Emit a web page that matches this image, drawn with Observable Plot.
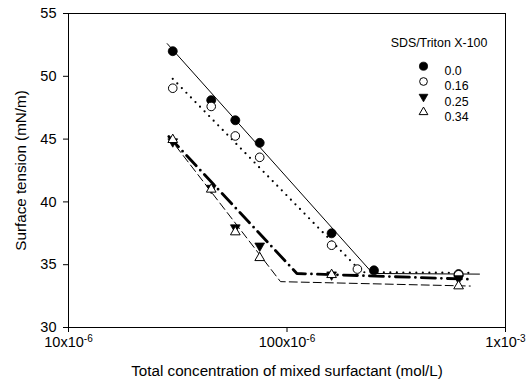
<!DOCTYPE html>
<html>
<head>
<meta charset="utf-8">
<script src="https://cdn.jsdelivr.net/npm/d3@7"></script>
<script src="https://cdn.jsdelivr.net/npm/@observablehq/plot@0.6"></script>
<style>
  html, body { margin: 0; padding: 0; background: white; }
</style>
</head>
<body>
<div id="chart"></div>
<script>
// ---- data ----
const seriesNames = ["0.0", "0.16", "0.25", "0.34"];
const legendTitle = "SDS/Triton X-100";

// measured points (concentration mol/L, surface tension mN/m)
const conc00  = [30e-6, 45e-6, 58e-6, 75e-6, 160e-6, 250e-6, 610e-6];
const gamma00 = [52.0, 48.1, 46.5, 44.7, 37.5, 34.55, 34.25];
const conc016  = [30e-6, 45e-6, 58e-6, 75e-6, 160e-6, 210e-6, 610e-6];
const gamma016 = [49.05, 47.6, 45.25, 43.55, 36.55, 34.65, 34.2];
const conc025  = [30e-6, 45e-6, 58e-6, 75e-6, 160e-6, 610e-6];
const gamma025 = [44.8, 41.1, 37.95, 36.5, 34.2, 33.9];
const conc034  = [30e-6, 45e-6, 58e-6, 75e-6, 160e-6, 610e-6];
const gamma034 = [44.95, 41.0, 37.6, 35.55, 34.2, 33.3];

// fitted two-segment lines (start, break, end)
const fitConc00  = [28.3e-6, 247e-6, 760e-6];
const fitGamma00 = [52.6, 34.3, 34.25];
const fitConc016  = [30e-6, 220e-6, 690e-6];
const fitGamma016 = [49.8, 34.4, 34.35];
const fitConc025  = [28.8e-6, 111e-6, 670e-6];
const fitGamma025 = [45.2, 34.3, 33.85];
const fitConc034  = [28.7e-6, 93.4e-6, 690e-6];
const fitGamma034 = [45.2, 33.65, 33.3];

// axes
const xTicks = [1e-5, 1e-4, 1e-3];
const xTickLabels = ["10x10|-6", "100x10|-6", "1x10|-3"];
const yTicks = [30, 35, 40, 45, 50, 55];
const xLabel = "Total concentration of mixed surfactant (mol/L)";
const yLabel = "Surface tension (mN/m)";

// ---- build tables ----
const pointSets = [[conc00, gamma00], [conc016, gamma016], [conc025, gamma025], [conc034, gamma034]];
const fitSets = [[fitConc00, fitGamma00], [fitConc016, fitGamma016], [fitConc025, fitGamma025], [fitConc034, fitGamma034]];
const points = pointSets.map(([xs, ys], s) => xs.map((x, i) => ({series: seriesNames[s], x, y: ys[i]})));
const fits = fitSets.map(([xs, ys], s) => xs.map((x, i) => ({series: seriesNames[s], x, y: ys[i]})));

// downward triangle symbol
const triangleDown = {
  draw(context, size) {
    const sqrt3 = Math.sqrt(3);
    const y = -Math.sqrt(size / (sqrt3 * 3));
    context.moveTo(0, -y * 2);
    context.lineTo(-sqrt3 * y, y);
    context.lineTo(sqrt3 * y, y);
    context.closePath();
  }
};

const markerStyles = [
  {symbol: "circle", r: 4.5, fill: "black", stroke: "black", strokeWidth: 0.8},
  {symbol: "circle", r: 4.3, fill: "white", stroke: "black", strokeWidth: 1},
  {symbol: triangleDown, r: 3.6, fill: "black", stroke: "black", strokeWidth: 0.8},
  {symbol: "triangle", r: 3.6, fill: "white", stroke: "black", strokeWidth: 1}
];
const lineStyles = [
  {stroke: "black", strokeWidth: 1},
  {stroke: "black", strokeWidth: 2.2, strokeDasharray: "0 6.5", strokeLinecap: "round"},
  {stroke: "black", strokeWidth: 2.8, strokeDasharray: "14 6 0 6", strokeLinecap: "round"},
  {stroke: "black", strokeWidth: 1, strokeDasharray: "8 4"}
];

const marks = [];
fits.forEach((rows, s) => marks.push(Plot.line(rows, {x: "x", y: "y", ...lineStyles[s]})));
points.forEach((rows, s) => marks.push(Plot.dot(rows, {x: "x", y: "y", ...markerStyles[s]})));

// legend inside the frame
marks.push(Plot.text([legendTitle], {frameAnchor: "top-left", dx: 370.5, dy: 25, text: d => d, fontSize: 12.4, textAnchor: "middle", fill: "black"}));
seriesNames.forEach((name, s) => {
  const dy = 52.7 + 15.3 * s;
  marks.push(Plot.dot([name], {frameAnchor: "top-left", dx: 355, dy, ...markerStyles[s], r: markerStyles[s].r * 0.9}));
  marks.push(Plot.text([name], {frameAnchor: "top-left", dx: 376, dy, text: d => d, fontSize: 12.4, textAnchor: "start", fill: "black"}));
});

marks.push(Plot.axisX({
  ticks: xTicks,
  tickFormat: d => xTickLabels[xTicks.findIndex(t => Math.abs(t - d) / t < 1e-9)],
  tickSize: 5, tickPadding: 4,
  label: xLabel, labelAnchor: "center", labelOffset: 48, labelArrow: "none"
}));
marks.push(Plot.axisY({
  ticks: yTicks,
  tickSize: 5, tickPadding: 7,
  label: yLabel, labelAnchor: "center", labelOffset: 53, labelArrow: "none"
}));
marks.push(Plot.frame({stroke: "black", strokeWidth: 1}));

const chart = Plot.plot({
  width: 529,
  height: 385,
  marginLeft: 68,
  marginRight: 24,
  marginTop: 13,
  marginBottom: 58,
  style: {fontFamily: "'Liberation Sans', Arial, sans-serif", fontSize: "14.5px", color: "black", background: "white"},
  x: {type: "log", domain: [1e-5, 1e-3]},
  y: {domain: [30, 55]},
  marks
});
document.getElementById("chart").appendChild(chart);

// superscript exponents on x tick labels
d3.select(chart).selectAll('g[aria-label="x-axis tick label"] text').each(function() {
  const t = this.textContent;
  if (!t.includes("|")) return;
  const [base, exp] = t.split("|");
  this.textContent = base;
  d3.select(this).append("tspan").attr("dy", "-0.5em").attr("font-size", "10px").text(exp);
});
// axis titles slightly larger than tick labels
d3.select(chart).selectAll('g[aria-label="x-axis label"], g[aria-label="y-axis label"]').attr("font-size", "15.2px");
</script>
</body>
</html>
